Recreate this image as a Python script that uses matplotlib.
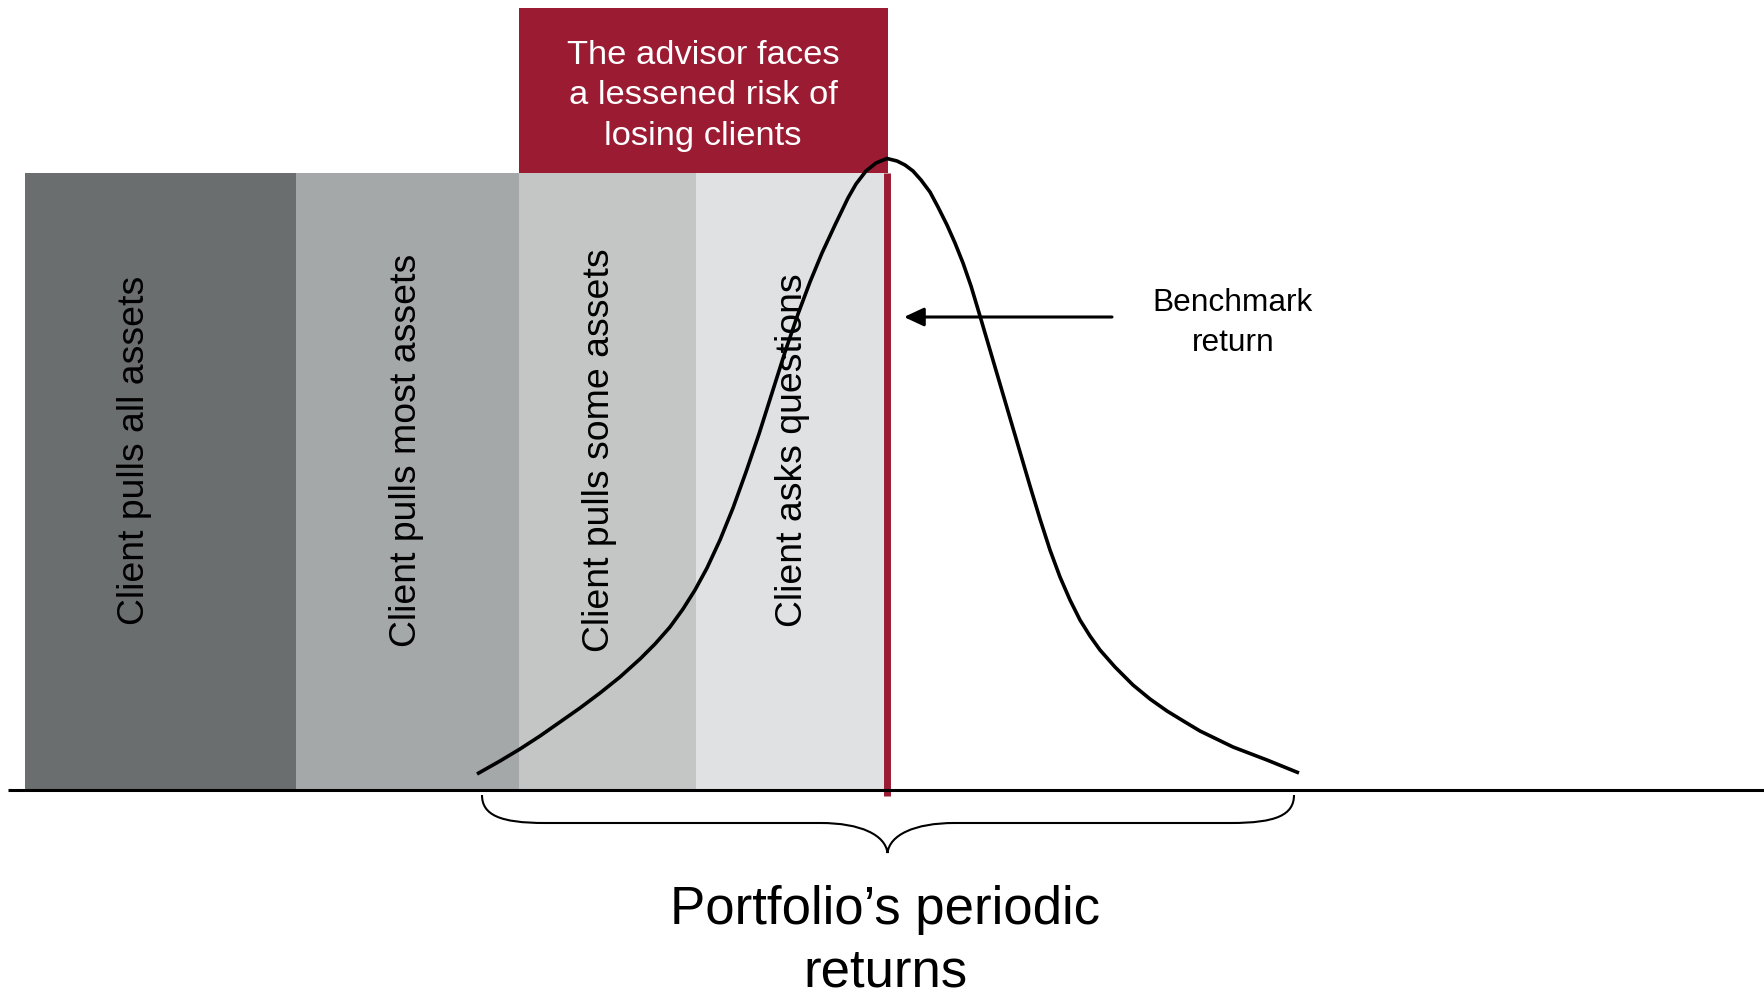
import matplotlib
matplotlib.use("Agg")
import matplotlib.pyplot as plt
from matplotlib.patches import Rectangle, PathPatch
from matplotlib.path import Path

plt.rcParams['font.family'] = ['Liberation Sans', 'DejaVu Sans']

# zones of client reaction (left edges .. benchmark), in picture pixels
band_edges = [25, 296, 519, 696, 884]
band_labels = ['Client pulls all assets', 'Client pulls most assets',
               'Client pulls some assets', 'Client asks questions']
band_colors = ['#6b6e6e', '#a5a8a8', '#c4c6c5', '#e0e1e2']
label_x = [135, 407, 600, 793]

# distribution of periodic returns
curve_x = [477, 500, 520, 540, 560, 580, 600, 620, 640, 655, 670, 683, 695, 707,
           720, 733, 746, 759, 772, 785, 798, 810, 822, 835, 848, 856, 866, 876,
           887, 897, 905, 913, 921, 930, 938, 947, 955, 963, 971, 980, 990, 1000,
           1010, 1020, 1030, 1040, 1050, 1060, 1070, 1080, 1090, 1100, 1115, 1133,
           1150, 1167, 1185, 1200, 1233, 1267, 1299]
curve_y = [774, 761, 749, 736, 722, 708, 693, 677, 659, 644, 627, 609, 590, 568,
           540, 508, 472, 434, 393, 352, 314, 282, 253, 225, 198, 184, 171, 163,
           158.5, 161, 165, 171, 180, 192, 207, 225, 243, 263, 286, 316, 350, 384,
           418, 452, 486, 519, 550, 577, 600, 620, 636, 650, 667, 685,
           699, 711, 722, 731, 747, 760, 773]

benchmark_x = 887.5
band_top = 173
base_y = 789.5

fig = plt.figure(figsize=(17.65, 9.93), dpi=100)
ax = fig.add_axes([0, 0, 1, 1])
ax.set_xlim(0, 1765)
ax.set_ylim(993, 0)
ax.axis('off')

# shaded zones
lefts = band_edges[:-1]
widths = [band_edges[i + 1] - band_edges[i] for i in range(len(lefts))]
ax.bar(lefts, base_y - band_top, width=widths, bottom=band_top, align='edge',
       color=band_colors, linewidth=0, zorder=1)
for x, lab in zip(label_x, band_labels):
    ax.text(x, 450, lab, rotation=90, ha='center', va='center',
            fontsize=26.9, color='black', zorder=2)

# red call-out box
ax.add_patch(Rectangle((519, 8), benchmark_x + 0.5 - 519, band_top - 8,
                       facecolor='#9b1b33', edgecolor='none', zorder=1))
ax.text(703, 96, 'The advisor faces\na lessened risk of\nlosing clients',
        ha='center', va='center', fontsize=24.8, color='white',
        linespacing=1.38, zorder=2)

# benchmark line
ax.plot([benchmark_x, benchmark_x], [band_top, 796], color='#9b1b33', lw=5,
        solid_capstyle='butt', zorder=3)

# baseline
ax.plot([8, 1765], [base_y, base_y], color='black', lw=2.2,
        solid_capstyle='butt', zorder=4)

# bell curve
ax.plot(curve_x, curve_y, color='black', lw=2.6, solid_capstyle='butt',
        solid_joinstyle='round', zorder=5)

# arrow + label
ax.annotate('', xy=(904, 317), xytext=(1112, 317),
            arrowprops=dict(arrowstyle='-|>,head_length=0.6,head_width=0.28',
                            mutation_scale=20, lw=2.2, color='black',
                            shrinkA=0, shrinkB=0), zorder=5)
ax.text(1233, 323, 'Benchmark\nreturn', ha='center', va='center',
        fontsize=22.8, linespacing=1.4)

# brace under the curve
l, r, m = curve_x[0] + 5, curve_x[-1] - 5, benchmark_x
top, mid, tip = 795, 823, 853
verts = [(l, top), (l, 815), (l + 18, mid), (l + 63, mid),
         (m - 67, mid),
         (m - 27, mid), (m - 2, 835), (m, tip),
         (m + 2, 835), (m + 27, mid), (m + 67, mid),
         (r - 63, mid),
         (r - 18, mid), (r, 815), (r, top)]
codes = [Path.MOVETO, Path.CURVE4, Path.CURVE4, Path.CURVE4,
         Path.LINETO,
         Path.CURVE4, Path.CURVE4, Path.CURVE4,
         Path.CURVE4, Path.CURVE4, Path.CURVE4,
         Path.LINETO,
         Path.CURVE4, Path.CURVE4, Path.CURVE4]
ax.add_patch(PathPatch(Path(verts, codes), fill=False, lw=1.5,
                       edgecolor='black', zorder=5))

ax.text(885, 941, 'Portfolio\u2019s periodic\nreturns', ha='center',
        va='center', fontsize=38, linespacing=1.33)

fig.savefig('out.png', dpi=100, facecolor='white')
